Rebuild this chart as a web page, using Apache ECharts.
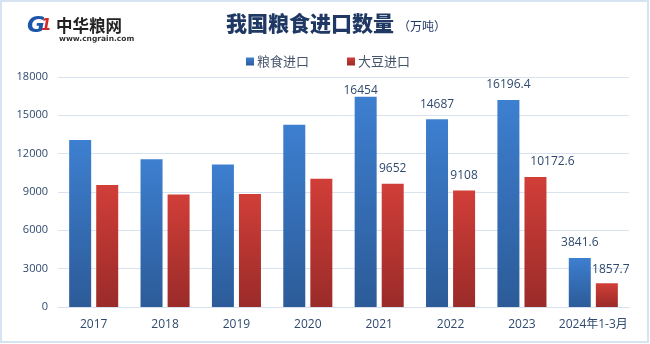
<!DOCTYPE html>
<html>
<head>
<meta charset="utf-8">
<script src="https://cdn.jsdelivr.net/npm/echarts@6/dist/echarts.min.js"></script>
<style>
html,body{margin:0;padding:0;background:#fff;}
#chart{width:650px;height:344px;}
</style>
</head>
<body>
<div id="chart"></div>
<script>
const categories = ['2017', '2018', '2019', '2020', '2021', '2022', '2023', '2024年1-3月'];
const grainImports = [13062, 11555, 11144, 14262, 16454, 14687, 16196.4, 3841.6];
const soybeanImports = [9553, 8803, 8851, 10033, 9652, 9108, 10172.6, 1857.7];
const seriesNames = ['粮食进口', '大豆进口'];
const yMin = 0, yMax = 18000, yInterval = 3000;
const labeledFrom = 4;

const txt = '#2f4a6e';
const font = "'Open Sans','Noto Sans CJK SC',sans-serif";
const cjk = "'Noto Sans CJK SC',sans-serif";

const grainOffsets = {4: [-5, 9]};
const soyOffsets = {6: [17, 0], 7: [4, 1]};

function build(values, offsets) {
  return values.map((v, i) => ({
    value: v,
    label: {show: i >= labeledFrom, offset: offsets[i] || [0, 0]}
  }));
}

const chart = echarts.init(document.getElementById('chart'));
chart.setOption({
  backgroundColor: '#fff',
  animation: false,
  textStyle: {fontFamily: font},
  legend: {
    data: seriesNames,
    left: 241, top: 50,
    icon: 'rect', itemWidth: 8, itemHeight: 8, itemGap: 38,
    textStyle: {fontFamily: cjk, fontSize: 13, color: '#44546a', padding: [0, 0, 0, -2]}
  },
  grid: {left: 58, right: 21, top: 77, bottom: 37},
  xAxis: {
    type: 'category', data: categories,
    axisLine: {lineStyle: {color: '#d6e0ee'}},
    axisTick: {show: false},
    axisLabel: {color: txt, fontSize: 12, margin: 12, fontFamily: font, interval: 0}
  },
  yAxis: {
    type: 'value', min: yMin, max: yMax, interval: yInterval,
    axisLine: {show: false}, axisTick: {show: false},
    axisLabel: {color: txt, fontSize: 11, margin: 10, fontFamily: font, formatter: v => String(v)},
    splitLine: {lineStyle: {color: '#d9e3f0'}}
  },
  series: [
    {
      name: seriesNames[0], type: 'bar', barWidth: 22, barGap: '23%',
      data: build(grainImports, grainOffsets),
      itemStyle: {color: new echarts.graphic.LinearGradient(0, 0, 0, 1, [
        {offset: 0, color: '#3d7fd0'}, {offset: 1, color: '#2c5b98'}])},
      label: {position: 'top', distance: 9, color: txt, fontSize: 12, fontFamily: font}
    },
    {
      name: seriesNames[1], type: 'bar', barWidth: 22,
      data: build(soybeanImports, soyOffsets),
      itemStyle: {color: new echarts.graphic.LinearGradient(0, 0, 0, 1, [
        {offset: 0, color: '#d13e38'}, {offset: 1, color: '#9a2b29'}])},
      label: {position: 'top', distance: 9, color: txt, fontSize: 12, fontFamily: font}
    }
  ],
  graphic: [
    {type: 'rect', silent: true, z: 100,
     shape: {x: 1, y: 1, width: 647, height: 341},
     style: {fill: 'none', stroke: '#d6e3f1', lineWidth: 2}},
    {type: 'text', left: 226, top: 13,
     style: {text: '我国粮食进口数量', font: "900 21px 'Noto Sans CJK SC'", fill: '#1f3864'}},
    {type: 'text', left: 398, top: 20,
     style: {text: '（万吨）', font: "12px 'Noto Sans CJK SC'", fill: '#1f3864'}},
    {type: 'text', left: 27, top: 15,
     style: {text: 'G', font: "italic 900 22px 'DejaVu Sans'", fill: '#1d55a8'}},
    {type: 'text', left: 41, top: 19,
     style: {text: '1', font: "italic 900 15px 'DejaVu Sans'", fill: '#d12a2a'}},
    {type: 'text', left: 56, top: 17,
     style: {text: '中华粮网', font: "bold 16.5px 'Noto Sans CJK SC'", fill: '#222'}},
    {type: 'text', left: 59, top: 35,
     style: {text: 'www.cngrain.com', font: "bold 7.5px 'DejaVu Sans'", fill: '#333'}}
  ]
});
</script>
</body>
</html>
